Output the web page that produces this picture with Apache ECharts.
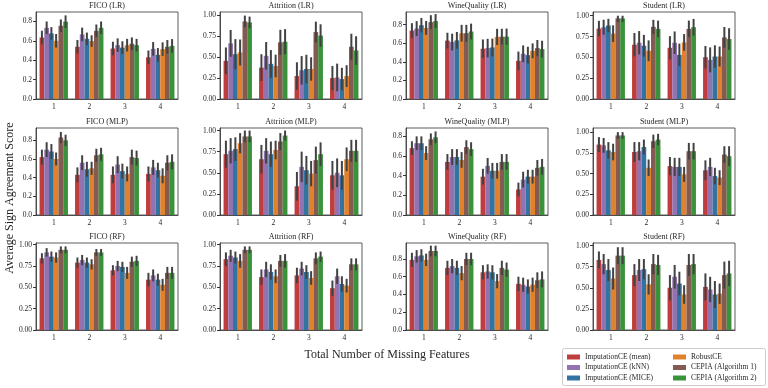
<!DOCTYPE html>
<html><head><meta charset="utf-8">
<script src="https://cdn.jsdelivr.net/npm/echarts@6/dist/echarts.min.js"></script>
<style>html,body{margin:0;padding:0;background:#fff}#c{width:768px;height:388px}</style>
</head><body><div id="c"></div>
<script>
const cats = ['1', '2', '3', '4'];
const methods = ['ImputationCE (mean)', 'ImputationCE (kNN)', 'ImputationCE (MICE)', 'RobustCE', 'CEPIA (Algorithm 1)', 'CEPIA (Algorithm 2)'];
const titles = ['FICO (LR)', 'Attrition (LR)', 'WineQuality (LR)', 'Student (LR)',
  'FICO (MLP)', 'Attrition (MLP)', 'WineQuality (MLP)', 'Student (MLP)',
  'FICO (RF)', 'Attrition (RF)', 'WineQuality (RF)', 'Student (RF)'];
const yMax = [0.897, 1.04, 0.935, 1.045, 0.932, 1.03, 0.885, 1.05, 1.02, 1.02, 0.98, 1.03];
const yStep = [0.2, 0.25, 0.2, 0.25, 0.2, 0.25, 0.2, 0.25, 0.25, 0.25, 0.2, 0.25];

// rows: methods (mean, kNN, MICE, RobustCE, CEPIA1, CEPIA2); cols: 1..4 missing features
const ficoLR = [[.634,.538,.52,.43],[.734,.666,.555,.517],[.676,.62,.53,.455],[.60,.597,.555,.514],[.755,.703,.57,.538],[.797,.734,.555,.548]];
const ficoLRErr = [[.07,.07,.07,.07],[.065,.07,.07,.07],[.065,.065,.065,.07],[.07,.06,.065,.07],[.065,.065,.065,.07],[.065,.065,.065,.07]];
const attrLR = [[.456,.375,.274,.25],[.665,.516,.343,.258],[.536,.42,.359,.238],[.556,.395,.359,.274],[.927,.677,.80,.625],[.915,.685,.758,.58]];
const attrLRErr = [[.16,.16,.165,.145],[.16,.165,.17,.165],[.18,.165,.17,.135],[.155,.135,.14,.13],[.07,.15,.125,.155],[.07,.15,.135,.17]];
const wineLR = [[.735,.627,.54,.41],[.757,.612,.547,.486],[.793,.63,.554,.471],[.764,.707,.667,.518],[.826,.707,.67,.547],[.837,.725,.67,.536]];
const wineLRErr = [[.08,.085,.1,.1],[.08,.09,.1,.09],[.078,.09,.095,.09],[.074,.09,.087,.08],[.075,.09,.085,.087],[.076,.085,.087,.09]];
const studLR = [[.846,.652,.615,.502],[.862,.676,.676,.47],[.883,.64,.53,.51],[.785,.579,.68,.51],[.968,.866,.842,.74],[.968,.842,.862,.72]];
const studLRErr = [[.093,.14,.14,.135],[.09,.14,.135,.15],[.08,.13,.135,.135],[.1,.125,.1,.12],[.045,.085,.1,.125],[.045,.1,.1,.13]];

const ficoMLP = [[.62,.43,.43,.44],[.70,.56,.54,.51],[.68,.49,.47,.48],[.60,.50,.44,.42],[.83,.64,.62,.56],[.80,.65,.61,.57]];
const ficoMLPErr = [[.08,.08,.09,.08],[.08,.08,.09,.08],[.08,.08,.08,.08],[.07,.07,.08,.08],[.06,.07,.08,.08],[.06,.07,.08,.08]];
const attrMLP = [[.72,.66,.34,.47],[.76,.76,.57,.50],[.78,.72,.53,.47],[.85,.77,.49,.66],[.93,.87,.65,.76],[.93,.94,.72,.76]];
const attrMLPErr = [[.16,.17,.17,.17],[.15,.15,.18,.17],[.14,.15,.17,.17],[.12,.11,.15,.14],[.07,.10,.16,.13],[.07,.06,.14,.13]];
const wineMLP = [[.68,.54,.39,.26],[.73,.59,.50,.36],[.73,.59,.45,.39],[.63,.56,.45,.39],[.77,.69,.54,.48],[.79,.67,.54,.49]];
const wineMLPErr = [[.07,.08,.08,.07],[.07,.08,.08,.08],[.07,.08,.08,.07],[.07,.08,.08,.07],[.06,.07,.08,.08],[.06,.07,.08,.08]];
const studMLP = [[.85,.76,.59,.54],[.84,.77,.58,.58],[.78,.82,.58,.47],[.76,.57,.49,.45],[.96,.89,.77,.73],[.96,.91,.77,.71]];
const studMLPErr = [[.09,.12,.11,.12],[.09,.11,.11,.11],[.10,.09,.11,.10],[.10,.10,.09,.09],[.04,.08,.10,.10],[.04,.07,.10,.12]];

const ficoRF = [[.84,.79,.70,.59],[.91,.82,.75,.64],[.86,.79,.74,.59],[.85,.77,.67,.53],[.94,.91,.80,.67],[.94,.91,.81,.67]];
const ficoRFErr = [[.06,.06,.06,.08],[.05,.06,.06,.07],[.06,.06,.06,.07],[.06,.06,.07,.07],[.04,.04,.06,.07],[.04,.04,.06,.07]];
const attrRF = [[.83,.62,.64,.49],[.87,.71,.72,.63],[.85,.68,.68,.54],[.81,.63,.61,.52],[.94,.81,.84,.77],[.94,.81,.86,.77]];
const attrRFErr = [[.08,.09,.09,.09],[.07,.09,.08,.09],[.07,.09,.08,.09],[.08,.08,.08,.08],[.04,.07,.07,.07],[.04,.08,.06,.07]];
const wineRF = [[.79,.70,.65,.52],[.83,.72,.66,.51],[.84,.70,.65,.49],[.79,.64,.55,.51],[.89,.80,.70,.56],[.89,.80,.68,.57]];
const wineRFErr = [[.08,.08,.08,.08],[.07,.08,.08,.08],[.07,.08,.08,.08],[.07,.08,.08,.08],[.06,.07,.08,.09],[.06,.07,.08,.09]];
const studRF = [[.83,.65,.50,.51],[.78,.71,.63,.48],[.71,.72,.55,.42],[.61,.54,.42,.43],[.88,.78,.77,.65],[.88,.77,.78,.67]];
const studRFErr = [[.10,.13,.15,.16],[.12,.13,.14,.15],[.13,.12,.14,.16],[.13,.12,.11,.12],[.10,.12,.13,.16],[.10,.12,.12,.15]];

const panels = [ficoLR, attrLR, wineLR, studLR, ficoMLP, attrMLP, wineMLP, studMLP, ficoRF, attrRF, wineRF, studRF];
const panelErrs = [ficoLRErr, attrLRErr, wineLRErr, studLRErr, ficoMLPErr, attrMLPErr, wineMLPErr, studMLPErr, ficoRFErr, attrRFErr, wineRFErr, studRFErr];

const colors = ['#c03d3e', '#9372b2', '#3274a1', '#e1812c', '#845b53', '#3a923a'];
const FONT = '"Liberation Serif", "DejaVu Serif", serif';
const TXT = '#262626';

const colLeft = [36, 220, 406, 593];
const rowTop = [12, 128, 243];
const W = 142, H = 87;

const grids = [], xAxes = [], yAxes = [], series = [], graphics = [];
for (let p = 0; p < 12; p++) {
  const r = Math.floor(p / 4), c = p % 4;
  grids.push({left: colLeft[c], top: rowTop[r], width: W, height: H, show: true, borderColor: '#333', borderWidth: 0.8, backgroundColor: 'transparent'});
  xAxes.push({type: 'category', gridIndex: p, data: cats,
    axisLine: {lineStyle: {color: '#333', width: 0.8}},
    axisTick: {alignWithLabel: true, length: 3, lineStyle: {color: '#333'}},
    axisLabel: {color: TXT, fontFamily: FONT, fontSize: 7.5, margin: 4}});
  const step = yStep[p];
  const ticks = [];
  for (let v = 0; v <= yMax[p] + 1e-9; v += step) ticks.push(+v.toFixed(2));
  const dec = step === 0.25 ? 2 : 1;
  yAxes.push({type: 'value', gridIndex: p, min: 0, max: yMax[p],
    splitLine: {show: false},
    axisLine: {show: true, lineStyle: {color: '#333', width: 0.8}},
    axisTick: {show: true, length: 3, customValues: ticks, lineStyle: {color: '#333'}},
    axisLabel: {customValues: ticks, color: TXT, fontFamily: FONT, fontSize: 7.5, margin: 4,
      formatter: v => v.toFixed(dec)}});
  const mean = panels[p], err = panelErrs[p];
  for (let k = 0; k < 6; k++) {
    series.push({type: 'bar', name: methods[k], xAxisIndex: p, yAxisIndex: p,
      data: mean[k], itemStyle: {color: colors[k]}, barGap: '0%', barCategoryGap: '20%',
      silent: true, animation: false});
  }
  const errData = [];
  for (let k = 0; k < 6; k++) for (let i = 0; i < 4; i++) {
    errData.push([i, Math.max(0, mean[k][i] - err[k][i]), Math.min(1, mean[k][i] + err[k][i]), k]);
  }
  series.push({type: 'custom', xAxisIndex: p, yAxisIndex: p, data: errData, z: 10, silent: true, animation: false,
    encode: {x: 0, y: [1, 2]},
    renderItem: function (params, api) {
      const cat = api.value(0), lo = api.value(1), hi = api.value(2), k = api.value(3);
      const band = api.size([1, 0])[0];
      const bw = band * 0.8 / 6;
      const p1 = api.coord([cat, lo]), p2 = api.coord([cat, hi]);
      const x = p1[0] + (k - 2.5) * bw;
      return {type: 'line', shape: {x1: x, y1: p1[1], x2: x, y2: p2[1]}, style: {stroke: '#424242', lineWidth: 2}};
    }});
  graphics.push({type: 'text', x: colLeft[c] + W / 2, y: rowTop[r] - 6,
    style: {text: titles[p], fill: TXT, font: '8px ' + FONT, textAlign: 'center', textVerticalAlign: 'middle'}});
}
graphics.push({type: 'text', x: 10, y: 198, rotation: Math.PI / 2,
  style: {text: 'Average Sign Agreement Score', fill: TXT, font: '12px ' + FONT, textAlign: 'center', textVerticalAlign: 'middle'}});
graphics.push({type: 'text', x: 387, y: 355,
  style: {text: 'Total Number of Missing Features', fill: TXT, font: '12px ' + FONT, textAlign: 'center', textVerticalAlign: 'middle'}});
graphics.push({type: 'rect', shape: {x: 562.5, y: 348.5, width: 203, height: 37, r: 2},
  style: {fill: '#fff', stroke: '#cccccc', lineWidth: 1}, z: -1});

const legendCommon = {orient: 'vertical', itemWidth: 13, itemHeight: 5, itemGap: 1.5, icon: 'rect', padding: 0, height: 36,
  textStyle: {fontFamily: FONT, fontSize: 7.5, color: TXT, lineHeight: 9}, selectedMode: false, z: 20};

const chart = echarts.init(document.getElementById('c'), null, {renderer: 'canvas'});
chart.setOption({
  animation: false,
  color: colors,
  grid: grids, xAxis: xAxes, yAxis: yAxes, series: series,
  legend: [
    Object.assign({left: 567, top: 352.5, data: methods.slice(0, 3)}, legendCommon),
    Object.assign({left: 673, top: 352.5, data: methods.slice(3)}, legendCommon)
  ],
  graphic: graphics
});
</script></body></html>
